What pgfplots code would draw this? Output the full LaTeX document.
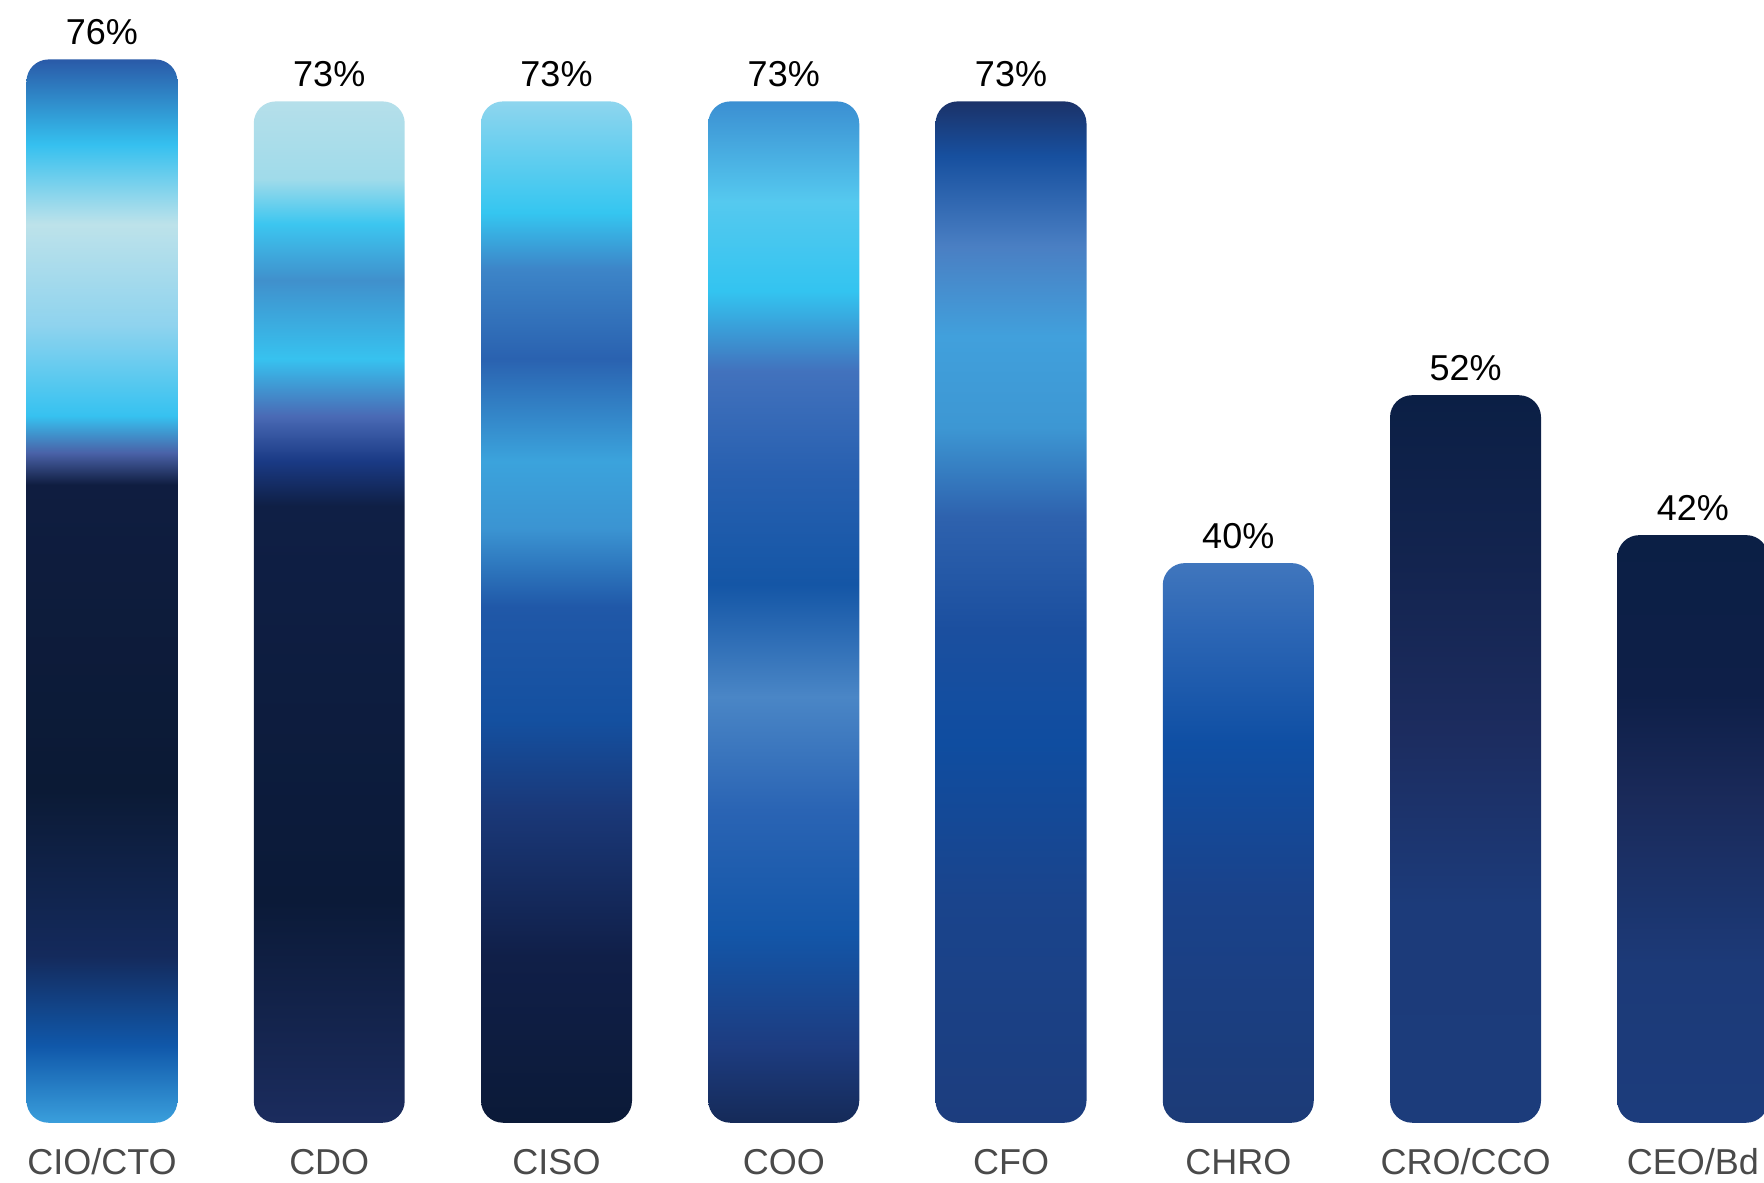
\documentclass[border=0pt]{standalone}
\usepackage{pgfplots}
\pgfplotsset{compat=1.18}
\usepackage{fontspec}
\setmainfont{Liberation Sans}
\definecolor{labelgray}{HTML}{4A4A4A}
% bar 1 CIO/CTO
\definecolor{aA}{HTML}{3A9FDC}\definecolor{aB}{HTML}{1058AA}\definecolor{aC}{HTML}{142A5C}
\definecolor{aD}{HTML}{0B1A35}\definecolor{aE}{HTML}{0F1D40}\definecolor{aF}{HTML}{4A62A8}
\definecolor{aG}{HTML}{36C2F0}\definecolor{aH}{HTML}{8FD3EE}\definecolor{aI}{HTML}{BDE2EA}
\definecolor{aJ}{HTML}{35C0EF}\definecolor{aK}{HTML}{2A5AA8}
\pgfdeclareverticalshading{barA}{100bp}{color(0bp)=(aA); color(25bp)=(aA); color(28.6bp)=(aB); color(32.85bp)=(aC); color(40.75bp)=(aD); color(55bp)=(aE); color(56.5bp)=(aF); color(58.25bp)=(aG); color(62.5bp)=(aH); color(67.25bp)=(aI); color(71bp)=(aJ); color(75bp)=(aK); color(100bp)=(aK)}
% bar 2 CDO
\definecolor{bA}{HTML}{1B2C5E}\definecolor{bB}{HTML}{0B1A38}\definecolor{bC}{HTML}{0F1F45}
\definecolor{bD}{HTML}{1A3A85}\definecolor{bE}{HTML}{4A6AB5}\definecolor{bF}{HTML}{37C2EF}
\definecolor{bG}{HTML}{4090CC}\definecolor{bH}{HTML}{3CC6F0}\definecolor{bI}{HTML}{A0DBEA}
\definecolor{bJ}{HTML}{B5DFEA}
\pgfdeclareverticalshading{barB}{100bp}{color(0bp)=(bA); color(25bp)=(bA); color(35.9bp)=(bB); color(55.2bp)=(bC); color(57.4bp)=(bD); color(59.6bp)=(bE); color(62.4bp)=(bF); color(66.25bp)=(bG); color(69bp)=(bH); color(71.2bp)=(bI); color(75bp)=(bJ); color(100bp)=(bJ)}
% bar 3 CISO
\definecolor{cA}{HTML}{0B1A38}\definecolor{cB}{HTML}{101F48}\definecolor{cC}{HTML}{1A3878}
\definecolor{cD}{HTML}{1450A0}\definecolor{cE}{HTML}{2058A8}\definecolor{cF}{HTML}{3B94D2}
\definecolor{cG}{HTML}{3BA3DC}\definecolor{cH}{HTML}{2A62B0}\definecolor{cI}{HTML}{3D85C8}
\definecolor{cJ}{HTML}{35C6F0}\definecolor{cK}{HTML}{8ED5EE}
\pgfdeclareverticalshading{barC}{100bp}{color(0bp)=(cA); color(25bp)=(cA); color(33.15bp)=(cB); color(40.3bp)=(cC); color(44.75bp)=(cD); color(50.25bp)=(cE); color(54.1bp)=(cF); color(57.4bp)=(cG); color(62.4bp)=(cH); color(66.8bp)=(cI); color(69.55bp)=(cJ); color(75bp)=(cK); color(100bp)=(cK)}
% bar 4 COO
\definecolor{dA}{HTML}{152A58}\definecolor{dB}{HTML}{1D3C80}\definecolor{dC}{HTML}{1356A8}
\definecolor{dD}{HTML}{2A64B4}\definecolor{dE}{HTML}{4A86C6}\definecolor{dF}{HTML}{1456A6}
\definecolor{dG}{HTML}{2860B0}\definecolor{dH}{HTML}{4272BD}\definecolor{dI}{HTML}{33C4F0}
\definecolor{dJ}{HTML}{55C9EF}\definecolor{dK}{HTML}{3B8FD2}
\pgfdeclareverticalshading{barD}{100bp}{color(0bp)=(dA); color(25bp)=(dA); color(28.75bp)=(dB); color(34.25bp)=(dC); color(40.3bp)=(dD); color(45.85bp)=(dE); color(51.35bp)=(dF); color(56.85bp)=(dG); color(61.8bp)=(dH); color(65.7bp)=(dI); color(70.1bp)=(dJ); color(75bp)=(dK); color(100bp)=(dK)}
% bar 5 CFO
\definecolor{eA}{HTML}{1C3D7E}\definecolor{eB}{HTML}{1A448C}\definecolor{eC}{HTML}{0F4DA0}
\definecolor{eD}{HTML}{1B4F9F}\definecolor{eE}{HTML}{2E62AE}\definecolor{eF}{HTML}{3D97D3}
\definecolor{eG}{HTML}{41A0DC}\definecolor{eH}{HTML}{4A7FC3}\definecolor{eI}{HTML}{17509F}
\definecolor{eJ}{HTML}{1B3268}
\pgfdeclareverticalshading{barE}{100bp}{color(0bp)=(eA); color(25bp)=(eA); color(35.9bp)=(eB); color(43.6bp)=(eC); color(49.15bp)=(eD); color(54.65bp)=(eE); color(59.05bp)=(eF); color(63.5bp)=(eG); color(67.9bp)=(eH); color(72.3bp)=(eI); color(75bp)=(eJ); color(100bp)=(eJ)}
% bar 6 CHRO
\definecolor{fA}{HTML}{1C3B77}\definecolor{fB}{HTML}{1A428A}\definecolor{fC}{HTML}{0F4FA4}
\definecolor{fD}{HTML}{2C66B5}\definecolor{fE}{HTML}{4076BD}
\pgfdeclareverticalshading{barF}{100bp}{color(0bp)=(fA); color(25bp)=(fA); color(45bp)=(fB); color(59bp)=(fC); color(69bp)=(fD); color(75bp)=(fE); color(100bp)=(fE)}
% bar 7 CRO/CCO
\definecolor{gA}{HTML}{1C3C7B}\definecolor{gB}{HTML}{1C3B7A}\definecolor{gC}{HTML}{1C2C5F}
\definecolor{gD}{HTML}{13244F}\definecolor{gE}{HTML}{0B1F45}
\pgfdeclareverticalshading{barG}{100bp}{color(0bp)=(gA); color(25bp)=(gA); color(40bp)=(gB); color(52bp)=(gC); color(63.5bp)=(gD); color(75bp)=(gE); color(100bp)=(gE)}
% bar 8 CEO/Bd
\definecolor{hA}{HTML}{1C3C7C}\definecolor{hB}{HTML}{1C3A78}\definecolor{hC}{HTML}{1A2A5A}
\definecolor{hD}{HTML}{0E1F48}\definecolor{hE}{HTML}{0B1F45}
\pgfdeclareverticalshading{barH}{100bp}{color(0bp)=(hA); color(25bp)=(hA); color(38.5bp)=(hB); color(52.5bp)=(hC); color(61.5bp)=(hD); color(75bp)=(hE); color(100bp)=(hE)}

\begin{document}
\begin{tikzpicture}
\begin{axis}[
  scale only axis,
  width=882pt, height=561.375pt,
  xmin=-0.4488, xmax=7.3135,
  ymin=0, ymax=80.25,
  axis line style={draw=none},
  ytick=\empty,
  xtick={0,1,2,3,4,5,6,7},
  xticklabels={CIO/CTO,CDO,CISO,COO,CFO,CHRO,CRO/CCO,CEO/Bd},
  major tick length=0pt,
  xticklabel style={font=\fontsize{18}{20}\selectfont, text=labelgray, anchor=base, yshift=-26pt},
  /pgf/number format/assume math mode=true,
  clip=true,
  bar style/.style={draw=none, mark=none, rounded corners=11pt},
]
\addplot[bar style, shading=barA] coordinates {(0,0) (0.3322,0) (0.3322,76) (-0.3322,76) (-0.3322,0) (0,0)};
\addplot[bar style, shading=barB] coordinates {(1,0) (1.3322,0) (1.3322,73) (0.6678,73) (0.6678,0) (1,0)};
\addplot[bar style, shading=barC] coordinates {(2,0) (2.3322,0) (2.3322,73) (1.6678,73) (1.6678,0) (2,0)};
\addplot[bar style, shading=barD] coordinates {(3,0) (3.3322,0) (3.3322,73) (2.6678,73) (2.6678,0) (3,0)};
\addplot[bar style, shading=barE] coordinates {(4,0) (4.3322,0) (4.3322,73) (3.6678,73) (3.6678,0) (4,0)};
\addplot[bar style, shading=barF] coordinates {(5,0) (5.3322,0) (5.3322,40) (4.6678,40) (4.6678,0) (5,0)};
\addplot[bar style, shading=barG] coordinates {(6,0) (6.3322,0) (6.3322,52) (5.6678,52) (5.6678,0) (6,0)};
\addplot[bar style, shading=barH] coordinates {(7,0) (7.3322,0) (7.3322,42) (6.6678,42) (6.6678,0) (7,0)};
% value labels
\addplot[draw=none, mark=none,
  nodes near coords={\pgfmathprintnumber{\pgfplotspointmeta}\%},
  every node near coord/.style={anchor=base, yshift=7.5pt, font=\fontsize{18}{20}\selectfont, text=black}]
  coordinates {(0,76) (1,73) (2,73) (3,73) (4,73) (5,40) (6,52) (7,42)};
\end{axis}
\pgfresetboundingbox
\path[use as bounding box] (0pt,-29.625pt) rectangle (882pt,561.375pt);
\end{tikzpicture}
\end{document}
